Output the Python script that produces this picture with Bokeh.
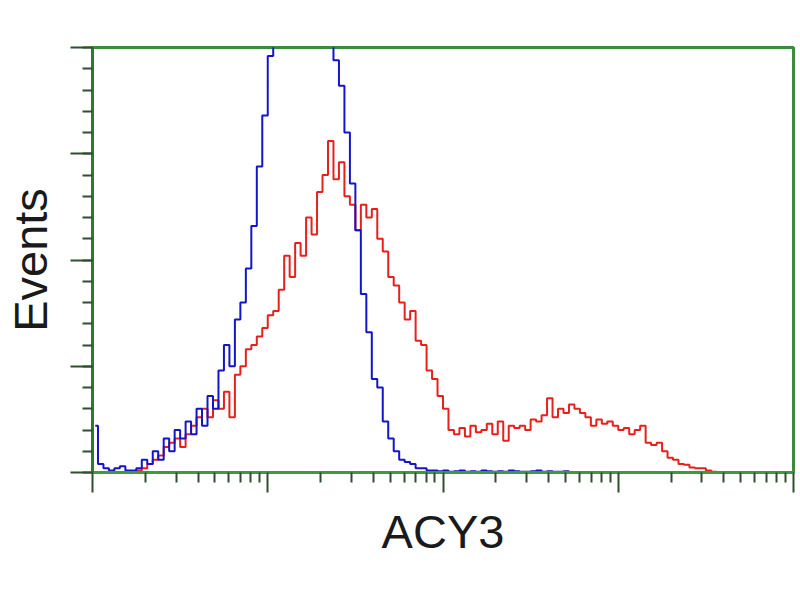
import numpy as np
from bokeh.plotting import figure
from bokeh.models import Range1d, FixedTicker
from bokeh.embed import file_html
from bokeh.resources import INLINE

# Histogram channels (log display, 4 decades over 1024 channels, 128 bins of 8)
bin_width = 8
blue_counts = [
    11, 2, 1, 0.5, 1, 1.5, 0.5, 0.5, 1, 3,
    2, 5, 3, 8, 5, 10, 8, 12, 9, 15,
    11, 18, 15, 24, 30, 25, 36, 40, 48, 58,
    72, 84, 98, 112, 122, 130, 136, 140, 142, 140,
    135, 128, 118, 108, 97, 91, 80, 68, 57, 42,
    33, 22, 20, 12, 8, 5, 3, 2.5, 2, 1,
    1, 0.5, 0.5, 0.3, 0.5, 0.2, 0.3, 0.5, 0.2, 0.3,
    0.2, 0.5, 0.3, 0.2, 0.3, 0.2, 0.5, 0.3, 0.2, 0.2,
    0.3, 0.5, 0.2, 0.3, 0.2, 0.2, 0.3, 0, 0, 0,
    0, 0, 0, 0, 0, 0, 0, 0, 0, 0,
    0, 0, 0, 0, 0, 0, 0, 0, 0, 0,
    0, 0, 0, 0, 0, 0, 0, 0, 0, 0,
    0, 0, 0, 0, 0, 0, 0, 0,
]
red_counts = [
    0, 0, 0, 0, 0, 0, 0, 0, 0.5, 1,
    2, 3, 4, 6, 7, 8, 6, 9, 11, 13,
    15, 13, 17, 15, 19, 13, 23, 25, 29, 30,
    32, 34, 37, 38, 43, 51, 46, 54, 51, 60,
    56, 66, 70, 78, 69, 73, 65, 63, 57, 63,
    60, 62, 55, 52, 46, 44, 40, 36, 38, 31,
    30, 24, 22, 18, 15, 10, 9, 10.5, 8.5, 11,
    9.5, 10, 11.5, 9, 12, 7.5, 11, 10.5, 11, 10,
    12.5, 12, 13.5, 17.5, 13, 15, 14, 16, 15, 14,
    13, 11, 12.5, 11.5, 12, 11, 10, 10.5, 9, 10,
    11, 7, 6.5, 7, 5, 3.5, 3, 2, 1.8, 1.2,
    1, 1, 0.5, 0.2, 0, 0, 0, 0, 0, 0,
    0, 0, 0, 0, 0, 0, 0, 0,
]
x_label = "ACY3"
y_label = "Events"
decades = [0, 1, 2, 3, 4]
channels_per_decade = 256
y_major = [0, 25, 50, 75, 100]
y_minor = [v for v in range(0, 101, 5)]

centers = (np.arange(len(blue_counts)) + 0.5) * bin_width

x_major = [d * channels_per_decade for d in decades]
x_minor = [channels_per_decade * (d + np.log10(k)) for d in decades[:-1] for k in range(2, 10)]

p = figure(width=800, height=600, output_backend="svg", toolbar_location=None,
           x_range=Range1d(0, 1024), y_range=Range1d(0, 100),
           min_border_left=92, min_border_right=7, min_border_top=47, min_border_bottom=128)
p.xgrid.visible = False
p.ygrid.visible = False
p.background_fill_color = "white"
p.border_fill_color = "white"
p.outline_line_color = "#3d8b3d"
p.outline_line_width = 3

p.step(centers, red_counts, mode="center", line_color="#e8201c", line_width=2)
p.step(centers, blue_counts, mode="center", line_color="#1414c8", line_width=2)

for ax in (p.xaxis[0], p.yaxis[0]):
    ax.major_label_text_font_size = "0px"
    ax.major_label_text_alpha = 0
    ax.axis_line_color = "#3d9b3d"
    ax.axis_line_width = 3
    ax.major_tick_line_color = "#2f4f2f"
    ax.minor_tick_line_color = "#2f4f2f"
    ax.major_tick_line_width = 2
    ax.minor_tick_line_width = 2
    ax.major_tick_in = 0
    ax.minor_tick_in = 0
    ax.axis_label_text_font = "Liberation Sans"
    ax.axis_label_text_font_style = "normal"
    ax.axis_label_text_color = "#1a1a1a"
    ax.axis_label_text_font_size = "47px"

p.xaxis[0].ticker = FixedTicker(ticks=x_major, minor_ticks=x_minor)
p.yaxis[0].ticker = FixedTicker(ticks=y_major, minor_ticks=y_minor)
p.xaxis[0].major_tick_out = 20
p.xaxis[0].minor_tick_out = 10
p.yaxis[0].major_tick_out = 22
p.yaxis[0].minor_tick_out = 10
p.yaxis[0].axis_line_color = "#2e7a2e"
p.xaxis[0].axis_label = x_label
p.yaxis[0].axis_label = y_label
p.xaxis[0].axis_label_standoff = 12
p.yaxis[0].axis_label_standoff = 14

open("out.html", "w").write(file_html(p, INLINE))
